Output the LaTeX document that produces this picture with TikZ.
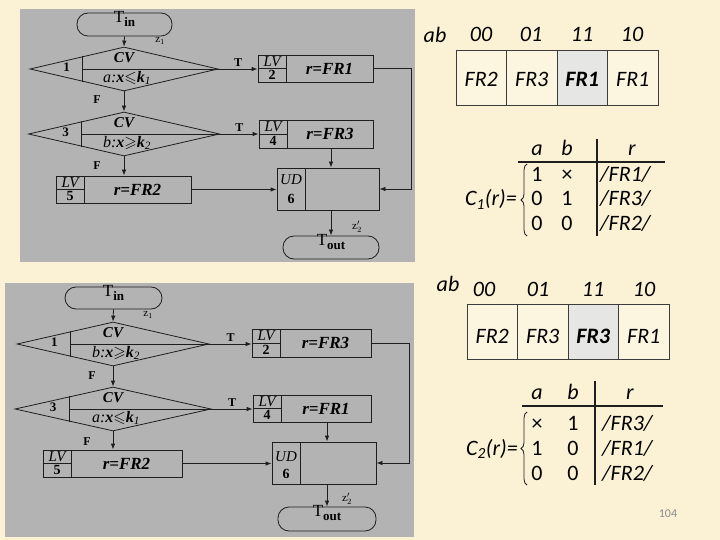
\documentclass[tikz,border=0pt]{standalone}
\usepackage{fontspec}
\usepackage{amssymb}
\setmainfont{Liberation Serif}
\newfontfamily\calfont{Carlito}
\usetikzlibrary{shapes.geometric,arrows.meta,calc,fit,decorations.pathreplacing}
\definecolor{bgcream}{HTML}{FBF2D5}
\definecolor{panelgray}{HTML}{B3B3B3}
\definecolor{inkc}{HTML}{1E1E1E}
\definecolor{cellgray}{HTML}{E6E6E4}
\definecolor{cellcream}{HTML}{FCF5DF}
\definecolor{cellline}{HTML}{3C3C3C}
\definecolor{pagenum}{HTML}{8A8A8A}

% diamond with CV / condition and number cell
\newcommand\cvdia[6]{%
  \node[dia, minimum width=#4pt] (#1) at (#2,#3) {};
  \coordinate (#1v) at ($(#1.west)!0.28!(#1.east)$);
  \draw[flow] ($(#1.west)!0.56!(#1.north)$) -- ($(#1.west)!0.56!(#1.south)$);
  \draw[flow] (#1v) -- (#1.east);
  \node[numtxt] at ($(#1.west)!0.7!(#1v)+(0,-2)$) {#5};
  \node[cvtxt] at (#2,{#3-11}) {CV};
  \node[condtxt] at ({#2+3},{#3+9}) {#6};
}
% LV box: name, x1, y1, x2, y2, label, number, text
\newcommand\lvbox[8]{%
  \node[lvframe, fit={(#2,#3) (#4,#5)}] (#1) {};
  \draw[flow] ({#2+28},#3) -- ({#2+28},#5);
  \draw[flow] (#2,{(#3+#5)/2}) -- ({#2+28},{(#3+#5)/2});
  \node[lvtxt] at ({#2+14},{#3+(#5-#3)/4}) {#6};
  \node[lvnum] at ({#2+14},{#3+3*(#5-#3)/4}) {#7};
  \node[rtxt] at ({(#2+28+#4)/2},{(#3+#5)/2}) {#8};
}
\newcommand\tsub[1]{\raisebox{-4pt}{\bfseries\fontsize{13}{14}\selectfont #1}}

\begin{document}
\begin{tikzpicture}[x=1pt,y=-1pt,
  flow/.style={draw=inkc, line width=0.8pt},
  conn/.style={draw=inkc, line width=0.8pt, -{Latex[length=6pt,width=4.5pt]}},
  term/.style={draw=inkc, line width=0.8pt, rounded corners=11pt, inner sep=0pt, font=\fontsize{17}{18}\selectfont},
  dia/.style={diamond, draw=inkc, line width=0.8pt, inner sep=0pt, minimum height=44pt},
  lvframe/.style={draw=inkc, line width=0.8pt, inner sep=0pt},
  cvtxt/.style={font=\bfseries\itshape\fontsize{15}{16}\selectfont, inner sep=0pt},
  condtxt/.style={font=\itshape\fontsize{16}{17}\selectfont, inner sep=0pt},
  numtxt/.style={font=\bfseries\fontsize{13}{14}\selectfont, inner sep=0pt},
  lvtxt/.style={font=\itshape\fontsize{15}{16}\selectfont, inner sep=0pt},
  lvnum/.style={font=\bfseries\fontsize{14}{15}\selectfont, inner sep=0pt},
  rtxt/.style={font=\bfseries\itshape\fontsize{17}{18}\selectfont, inner sep=0pt},
  tf/.style={font=\bfseries\fontsize{12}{13}\selectfont, inner sep=1pt},
  zl/.style={font=\fontsize{11}{12}\selectfont, inner sep=0pt},
  kcell/.style={draw=cellline, line width=1pt, fill=cellcream, minimum width=50.5pt, minimum height=55pt, inner sep=0pt},
  ctxt/.style={font=\calfont\itshape\fontsize{22}{26}\selectfont, inner sep=0pt, anchor=base},
  cup/.style={font=\calfont\fontsize{22}{26}\selectfont, inner sep=0pt, anchor=base},
  bar/.style={draw=inkc, line width=2pt},
  hline/.style={draw=inkc, line width=1.5pt},
  cbrace/.style={draw=inkc, line width=0.8pt, decorate, decoration={brace, amplitude=6pt}},
]
\useasboundingbox (0,0) rectangle (720,540);
\fill[bgcream] (0,0) rectangle (720,540);
\fill[panelgray] (20,9) rectangle (415,262);
\fill[panelgray] (5,283) rectangle (414,537);

% ---------------- top flowchart ----------------
\node[term, fit={(77,13) (172,36)}] (tin1) {T\tsub{in}};
\cvdia{d1}{124}{69}{188}{1}{\textit{a}:\textbf{\textit{x}}$\leqslant$\textbf{\textit{k}}\textsubscript{\textit{1}}}
\cvdia{d2}{124}{134}{191}{3}{\textit{b}:\textbf{\textit{x}}$\geqslant$\textbf{\textit{k}}\textsubscript{\textit{2}}}
\lvbox{lv2}{258}{55}{373}{82}{LV}{2}{r=FR1}
\lvbox{lv4}{259}{120}{373}{148}{LV}{4}{r=FR3}
\lvbox{lv5}{56}{176}{191}{203}{LV}{5}{r=FR2}
\node[lvframe, fit={(277,168) (379,210)}] (ud1) {};
\draw[flow] (305,168) -- (305,210);
\node[lvtxt] at (291,180) {UD};
\node[lvnum] at (291,199) {6};
\node[term, fit={(283,236) (379,259)}] (tout1) {T\tsub{out}};
\coordinate (rt1) at (411,69);

\draw[conn] (tin1.south) -- (d1.north);
\node[zl] at (160,41) {z\textsubscript{1}};
\draw[conn] (d1.east) -- node[tf, above=1pt] {T} (d1.east -| lv2.west);
\draw[conn] (d1.south) -- (d2.north);
\node[tf] at (97,100) {F};
\draw[conn] (d2.east) -- node[tf, above=1pt] {T} (d2.east -| lv4.west);
\draw[conn] (d2.south) -- (d2.south |- lv5.north);
\node[tf] at (97,166) {F};
\draw[conn] (lv5.east) -- (lv5.east -| ud1.west);
\draw[conn] (lv2.east) -- (lv2.east -| rt1) |- (ud1.east);
\draw[conn] (tout1.north |- lv4.south) -- (tout1.north |- ud1.north);
\draw[conn] (tout1.north |- ud1.south) -- (tout1.north);
\node[zl] at (357,227) {z$'_2$};

% ---------------- bottom flowchart ----------------
\node[term, fit={(65,287) (162,309)}] (tin2) {T\tsub{in}};
\cvdia{d3}{113}{344}{192}{1}{\textit{b}:\textbf{\textit{x}}$\geqslant$\textbf{\textit{k}}\textsubscript{\textit{2}}}
\cvdia{d4}{113}{409}{196}{3}{\textit{a}:\textbf{\textit{x}}$\leqslant$\textbf{\textit{k}}\textsubscript{\textit{1}}}
\lvbox{lv2b}{252}{329}{371}{357}{LV}{2}{r=FR3}
\lvbox{lv4b}{253}{395}{371}{422}{LV}{4}{r=FR1}
\lvbox{lv5b}{43}{450}{182}{477}{LV}{5}{r=FR2}
\node[lvframe, fit={(272,442) (376,484)}] (ud2) {};
\draw[flow] (300,442) -- (300,484);
\node[lvtxt] at (286,457) {UD};
\node[lvnum] at (286,474) {6};
\node[term, fit={(278,507) (376,531)}] (tout2) {T\tsub{out}};
\coordinate (rt2) at (409,343);

\draw[conn] (tin2.south) -- (d3.north);
\node[zl] at (148,315) {z\textsubscript{1}};
\draw[conn] (d3.east) -- node[tf, above=1pt] {T} (d3.east -| lv2b.west);
\draw[conn] (d3.south) -- (d4.north);
\node[tf] at (92,376) {F};
\draw[conn] (d4.east) -- node[tf, above=1pt] {T} (d4.east -| lv4b.west);
\draw[conn] (d4.south) -- (d4.south |- lv5b.north);
\node[tf] at (87,442) {F};
\draw[conn] (lv5b.east) -- (lv5b.east -| ud2.west);
\draw[conn] (lv2b.east) -- (lv2b.east -| rt2) |- (ud2.east);
\draw[conn] (tout2.north |- lv4b.south) -- (tout2.north |- ud2.north);
\draw[conn] (tout2.north |- ud2.south) -- (tout2.north);
\node[zl] at (347,499) {z$'_2$};

% ---------------- table 1 ----------------
\node[ctxt] at (435,43) {ab};
\node[ctxt] at (481,42) {00};
\node[ctxt] at (531,42) {01};
\node[ctxt] at (582,42) {11};
\node[ctxt] at (632,42) {10};
\node[kcell] (k1a) at (481.25,78.5) {};
\node[kcell] (k1b) at (531.75,78.5) {};
\node[kcell, fill=cellgray] (k1c) at (582.25,78.5) {};
\node[kcell] (k1d) at (632.75,78.5) {};
\node[ctxt] at (481.25,87) {FR2};
\node[ctxt] at (531.75,87) {FR3};
\node[ctxt] at (582.25,87) {\bfseries FR1};
\node[ctxt] at (632.75,87) {FR1};

% C1
\node[ctxt] at (537,156) {a};
\node[ctxt] at (567,156) {b};
\node[ctxt] at (632,156) {r};
\draw[hline] (518,162) -- (665,162);
\draw[bar] (597,139) -- (597,236);
\node[cup] at (537,182) {1};
\node[cup] at (567,182) {×};
\node[ctxt, anchor=base west] at (600,182) {/FR1/};
\node[cup] at (537,206) {0};
\node[cup] at (567,206) {1};
\node[ctxt, anchor=base west] at (600,206) {/FR3/};
\node[cup] at (537,230) {0};
\node[cup] at (567,230) {0};
\node[ctxt, anchor=base west] at (600,230) {/FR2/};
\node[ctxt, anchor=base east] at (517,206) {C\textsubscript{1}(r)=};
\draw[cbrace] (527,236) -- (527,164);

% ---------------- table 2 ----------------
\node[ctxt] at (448,291) {ab};
\node[ctxt] at (484,296) {00};
\node[ctxt] at (538,296) {01};
\node[ctxt] at (593,296) {11};
\node[ctxt] at (644,296) {10};
\node[kcell] (k2a) at (492.25,331.5) {};
\node[kcell] (k2b) at (542.75,331.5) {};
\node[kcell, fill=cellgray] (k2c) at (593.25,331.5) {};
\node[kcell] (k2d) at (643.75,331.5) {};
\node[ctxt] at (492.25,343) {FR2};
\node[ctxt] at (542.75,343) {FR3};
\node[ctxt] at (593.25,343) {\bfseries FR3};
\node[ctxt] at (643.75,343) {FR1};

% C2
\node[ctxt] at (537,399) {a};
\node[ctxt] at (573,399) {b};
\node[ctxt] at (630,399) {r};
\draw[hline] (522,406) -- (663,406);
\draw[bar] (595,381) -- (595,485);
\node[cup] at (537,430) {×};
\node[cup] at (573,430) {1};
\node[ctxt, anchor=base west] at (602,430) {/FR3/};
\node[cup] at (537,455) {1};
\node[cup] at (573,455) {0};
\node[ctxt, anchor=base west] at (602,455) {/FR1/};
\node[cup] at (537,480) {0};
\node[cup] at (573,480) {0};
\node[ctxt, anchor=base west] at (602,480) {/FR2/};
\node[ctxt, anchor=base east] at (518,455) {C\textsubscript{2}(r)=};
\draw[cbrace] (527,485) -- (527,412);

\node[font=\calfont\fontsize{12}{14}\selectfont, text=pagenum] at (668,514) {104};
\end{tikzpicture}
\end{document}
